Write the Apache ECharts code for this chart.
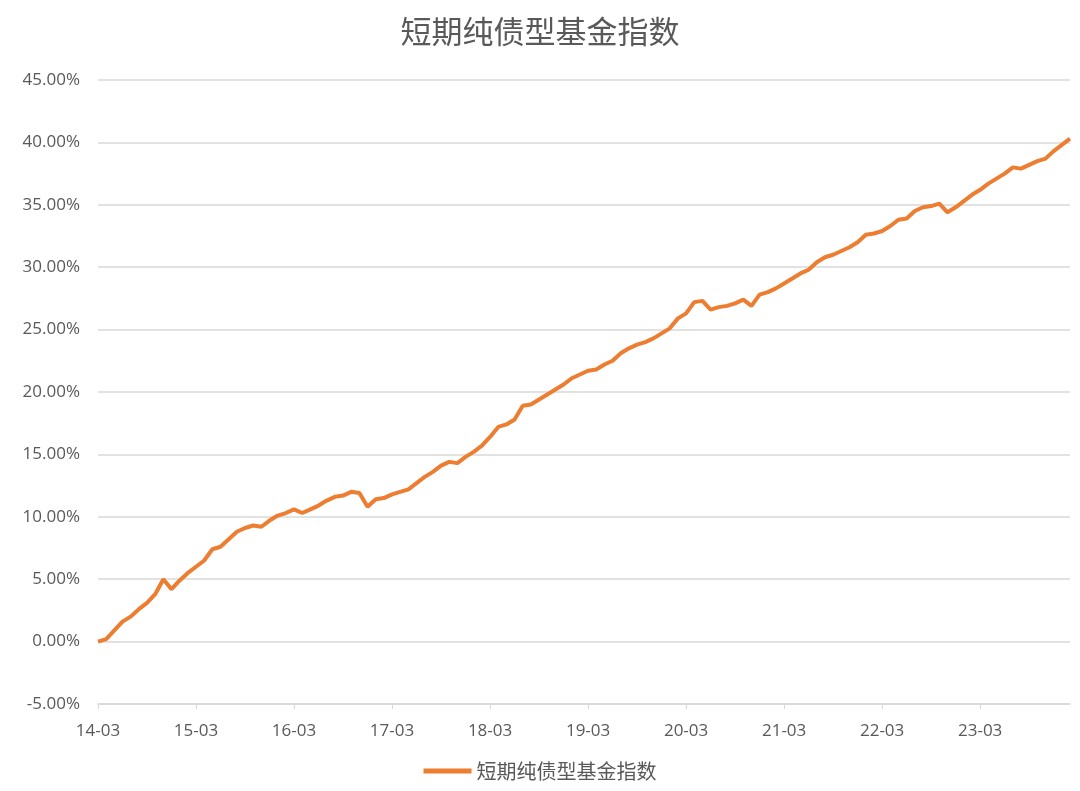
<!DOCTYPE html>
<html>
<head>
<meta charset="utf-8">
<script src="https://cdn.jsdelivr.net/npm/echarts@6/dist/echarts.min.js"></script>
<style>
html,body{margin:0;padding:0;background:#fff;}
#chart{width:1080px;height:791px;}
</style>
</head>
<body>
<div id="chart"></div>
<script>
// Monthly categories from 14-03 to 24-02
var startYear = 14, startMonth = 3, monthCount = 120;
var categories = [];
for (var i = 0; i < monthCount; i++) {
  var mm = startMonth - 1 + i;
  var y = startYear + Math.floor(mm / 12);
  var m = (mm % 12) + 1;
  categories.push(y + '-' + (m < 10 ? '0' + m : m));
}

var seriesName = '短期纯债型基金指数';

// Index return (%) by month
var indexValues = [
  0.0, 0.2, 0.9, 1.6, 2.0, 2.6, 3.1, 3.8, 5.0, 4.2, 4.9, 5.5,
  6.0, 6.5, 7.4, 7.6, 8.2, 8.8, 9.1, 9.3, 9.2, 9.7, 10.1, 10.3,
  10.6, 10.3, 10.6, 10.9, 11.3, 11.6, 11.7, 12.0, 11.9, 10.8, 11.4, 11.5,
  11.8, 12.0, 12.2, 12.7, 13.2, 13.6, 14.1, 14.4, 14.3, 14.8, 15.2, 15.7,
  16.4, 17.2, 17.4, 17.8, 18.9, 19.0, 19.4, 19.8, 20.2, 20.6, 21.1, 21.4,
  21.7, 21.8, 22.2, 22.5, 23.1, 23.5, 23.8, 24.0, 24.3, 24.7, 25.1, 25.9,
  26.3, 27.2, 27.3, 26.6, 26.8, 26.9, 27.1, 27.4, 26.9, 27.8, 28.0, 28.3,
  28.7, 29.1, 29.5, 29.8, 30.4, 30.8, 31.0, 31.3, 31.6, 32.0, 32.6, 32.7,
  32.9, 33.3, 33.8, 33.9, 34.5, 34.8, 34.9, 35.1, 34.4, 34.8, 35.3, 35.8,
  36.2, 36.7, 37.1, 37.5, 38.0, 37.9, 38.2, 38.5, 38.7, 39.3, 39.8, 40.3
];

var yMin = -5, yMax = 45, yInterval = 5;

var chart = echarts.init(document.getElementById('chart'));
chart.setOption({
  backgroundColor: '#ffffff',
  animation: false,
  title: {
    text: seriesName,
    left: 'center',
    top: 11,
    textStyle: { fontFamily: 'Noto Sans CJK SC', fontSize: 31, fontWeight: 'normal', color: '#595959' }
  },
  legend: {
    bottom: 5,
    left: 'center',
    icon: 'rect',
    itemWidth: 48,
    itemHeight: 5,
    itemGap: 6,
    textStyle: { fontFamily: 'Noto Sans CJK SC', fontSize: 20, color: '#595959' },
    data: [seriesName]
  },
  grid: { left: 98, right: 10, top: 80, bottom: 87, containLabel: false },
  xAxis: {
    type: 'category',
    data: categories,
    boundaryGap: false,
    axisLine: { onZero: false, lineStyle: { color: '#d9d9d9', width: 1.5 } },
    axisTick: { show: true, interval: 11, length: 5, lineStyle: { color: '#d9d9d9' } },
    axisLabel: { interval: 11, margin: 19, fontFamily: 'Open Sans', fontSize: 17, color: '#595959' },
    splitLine: { show: false }
  },
  yAxis: {
    type: 'value',
    min: yMin,
    max: yMax,
    interval: yInterval,
    axisLine: { show: false },
    axisTick: { show: false },
    axisLabel: {
      margin: 18,
      fontFamily: 'Open Sans',
      fontSize: 17,
      color: '#595959',
      formatter: function (v) { return v.toFixed(2) + '%'; }
    },
    splitLine: { lineStyle: { color: '#d9d9d9', width: 1.5 } }
  },
  series: [{
    name: seriesName,
    type: 'line',
    data: indexValues,
    showSymbol: false,
    symbol: 'none',
    smooth: false,
    lineStyle: { color: '#ED7D31', width: 4 },
    itemStyle: { color: '#ED7D31' }
  }]
});
</script>
</body>
</html>
